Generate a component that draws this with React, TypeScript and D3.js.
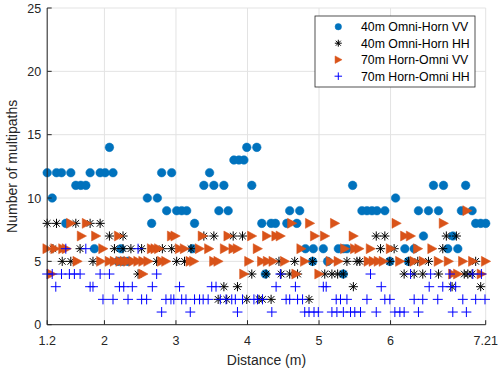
import React from "react";
import * as d3 from "d3";

// ---- data: [distance (m), number of multipaths] ----
const vv40: [number, number][] = [
  [2.07, 14], [3.99, 14], [4.13, 14],
  [3.81, 13], [3.88, 13], [3.95, 13],
  [1.2, 12], [1.33, 12], [1.4, 12], [1.53, 12], [1.8, 12], [1.94, 12], [2.01, 12], [2.12, 12], [2.8, 12], [2.94, 12], [3.47, 12],
  [1.6, 11], [1.67, 11], [1.74, 11], [3.39, 11], [3.53, 11], [3.67, 11], [4.06, 11], [5.47, 11], [6.6, 11], [6.74, 11], [7.05, 11],
  [1.27, 10], [2.6, 10], [2.74, 10], [6.07, 10],
  [2.87, 9], [3.01, 9], [3.08, 9], [3.15, 9], [3.6, 9], [3.73, 9], [4.59, 9], [4.73, 9], [5.6, 9], [5.67, 9], [5.74, 9], [5.81, 9], [5.92, 9], [6.39, 9], [6.53, 9], [6.67, 9], [6.99, 9], [7.14, 9],
  [1.46, 8], [2.66, 8], [3.26, 8], [4.2, 8], [4.33, 8], [4.39, 8], [4.55, 8], [4.69, 8], [7.19, 8], [7.26, 8], [7.33, 8],
  [6.46, 7], [6.87, 7],
  [1.86, 6], [2.23, 6], [3.23, 6], [4.81, 6], [4.92, 6], [5.06, 6], [5.27, 6], [5.34, 6], [5.39, 6], [6.2, 6], [6.33, 6], [6.8, 6], [6.94, 6],
  [2.19, 5], [2.26, 5], [2.33, 5], [4.91, 5], [5.12, 5], [5.99, 5], [6.25, 5],
  [4.25, 4], [5.34, 4],
];

const hh40: [number, number][] = [
  [1.2, 8], [1.33, 8], [1.6, 8], [1.8, 8], [1.94, 8],
  [2.07, 7], [2.26, 7], [3.39, 7], [3.53, 7], [3.8, 7], [3.93, 7], [5.8, 7], [5.92, 7], [6.78, 7], [6.92, 7],
  [1.28, 6], [1.66, 6], [2.14, 6], [2.26, 6], [2.37, 6], [2.52, 6], [2.81, 6], [2.94, 6], [3.21, 6], [5.86, 6], [6.05, 6], [6.73, 6],
  [1.41, 5], [1.53, 5], [1.84, 5], [2.73, 5], [3.01, 5], [3.12, 5], [4.44, 5], [4.66, 5], [4.91, 5], [5.39, 5], [5.53, 5], [5.57, 5], [5.99, 5], [6.25, 5], [6.38, 5], [6.53, 5], [7.19, 5],
  [2.47, 4], [4.06, 4], [4.26, 4], [4.47, 4], [4.59, 4], [4.7, 4], [5.08, 4], [5.18, 4], [5.26, 4], [5.34, 4], [6.19, 4], [6.33, 4], [6.45, 4], [6.67, 4], [7.03, 4], [7.08, 4], [7.14, 4],
  [3.67, 3], [3.86, 3], [5.48, 3], [6.86, 3], [7.26, 3],
  [3.59, 2], [3.71, 2], [3.99, 2], [4.16, 2], [4.21, 2], [4.33, 2], [4.86, 2],
];

const vv70: [number, number][] = [
  [7.07, 9],
  [1.53, 8], [1.75, 8], [4.62, 8], [4.87, 8], [5.22, 8], [6.08, 8], [6.74, 8],
  [1.68, 7], [1.88, 7], [2.2, 7], [2.94, 7], [2.99, 7], [3.37, 7], [3.73, 7], [4.06, 7], [4.27, 7], [4.4, 7], [4.46, 7], [4.94, 7], [5.08, 7], [5.48, 7], [6.2, 7], [6.28, 7],
  [1.2, 6], [1.31, 6], [1.42, 6], [1.47, 6], [1.98, 6], [2.66, 6], [2.71, 6], [2.76, 6], [3.05, 6], [3.12, 6], [3.33, 6], [3.46, 6], [3.68, 6], [3.8, 6], [3.86, 6], [4.14, 6], [4.75, 6], [5.36, 6], [5.5, 6], [5.56, 6], [5.72, 6], [6.0, 6], [6.38, 6], [6.58, 6],
  [1.62, 5], [1.95, 5], [2.07, 5], [2.14, 5], [2.22, 5], [2.28, 5], [2.33, 5], [2.4, 5], [2.47, 5], [2.54, 5], [2.61, 5], [2.8, 5], [2.86, 5], [3.2, 5], [3.25, 5], [3.53, 5], [3.59, 5], [4.02, 5], [4.2, 5], [4.28, 5], [4.36, 5], [4.52, 5], [4.8, 5], [5.16, 5], [5.27, 5], [5.69, 5], [5.76, 5], [5.83, 5], [5.9, 5], [6.13, 5], [6.33, 5], [6.46, 5], [6.67, 5], [6.81, 5], [7.01, 5], [7.15, 5], [7.33, 5],
  [1.26, 4], [2.54, 4], [3.95, 4], [4.68, 4], [5.0, 4], [6.87, 4], [6.94, 4], [7.27, 4],
];

const hh70: [number, number][] = [
  [1.46, 6], [1.74, 6], [2.47, 6],
  [1.2, 4], [1.27, 4], [1.4, 4], [1.51, 4], [1.58, 4], [1.66, 4], [1.94, 4], [2.07, 4], [2.73, 4], [4.46, 4], [5.72, 4], [6.28, 4], [6.56, 4], [6.83, 4], [7.15, 4], [7.27, 4],
  [1.32, 3], [1.8, 3], [1.84, 3], [2.21, 3], [2.27, 3], [2.39, 3], [2.67, 3], [3.05, 3], [3.5, 3], [3.56, 3], [4.4, 3], [4.67, 3], [5.06, 3], [5.1, 3], [5.87, 3], [6.54, 3], [6.73, 3], [6.84, 3], [6.91, 3],
  [1.98, 2], [2.12, 2], [2.33, 2], [2.52, 2], [2.59, 2], [2.86, 2], [2.93, 2], [2.97, 2], [3.08, 2], [3.14, 2], [3.26, 2], [3.33, 2], [3.38, 2], [3.45, 2], [3.62, 2], [3.7, 2], [3.78, 2], [3.83, 2], [3.93, 2], [4.09, 2], [4.14, 2], [4.21, 2], [4.54, 2], [4.59, 2], [4.7, 2], [4.77, 2], [5.24, 2], [5.3, 2], [5.39, 2], [5.67, 2], [5.92, 2], [5.99, 2], [6.33, 2], [6.45, 2], [6.66, 2], [7.01, 2], [7.19, 2], [7.32, 2],
  [2.8, 1], [3.2, 1], [3.86, 1], [4.34, 1], [4.8, 1], [4.86, 1], [4.93, 1], [4.99, 1], [5.18, 1], [5.25, 1], [5.34, 1], [5.44, 1], [5.5, 1], [5.58, 1], [5.8, 1], [6.06, 1], [6.13, 1], [6.19, 1], [6.39, 1], [6.87, 1], [7.06, 1],
];

const xTickValues = [1.2, 2, 3, 4, 5, 6, 7.33];
const xTickLabels = ["1.2", "2", "3", "4", "5", "6", "7.21"];
const yTickValues = [0, 5, 10, 15, 20, 25];
const legendLabels = ["40m Omni-Horn VV", "40m Omni-Horn HH", "70m Horn-Omni VV", "70m Horn-Omni HH"];

const W = 499, H = 378;
const M = { left: 47.2, top: 8, right: 13.3, bottom: 53.3 };
const FONT = "'Liberation Sans', Arial, Helvetica, sans-serif";
const AX = "#262626";
const GRID = "#e3e3e3";
const C_BLUE = "#0072BD";
const C_ORANGE = "#D95319";
const C_PLUS = "#0000FF";

const x = d3.scaleLinear().domain([1.2, 7.33]).range([M.left, W - M.right]);
const y = d3.scaleLinear().domain([0, 25]).range([H - M.bottom, M.top]);

type MkProps = { cx: number; cy: number; k?: number };

function Circle({ cx, cy, k = 1 }: MkProps) {
  return <circle cx={cx} cy={cy} r={4.3 * k} fill={C_BLUE} stroke={C_BLUE} strokeWidth={0.5} />;
}
function Star({ cx, cy, k = 1 }: MkProps) {
  const s = 4.6 * k, q = 3.3 * k;
  const d = `M${cx - s},${cy}H${cx + s}M${cx},${cy - s}V${cy + s}M${cx - q},${cy - q}L${cx + q},${cy + q}M${cx - q},${cy + q}L${cx + q},${cy - q}`;
  return <path d={d} stroke="#000" strokeWidth={1} fill="none" />;
}
function Tri({ cx, cy, k = 1 }: MkProps) {
  const pts = `${cx - 4.3 * k},${cy - 5 * k} ${cx + 5 * k},${cy} ${cx - 4.3 * k},${cy + 5 * k}`;
  return <polygon points={pts} fill={C_ORANGE} stroke={C_ORANGE} strokeWidth={0.5} />;
}
function Plus({ cx, cy, k = 1 }: MkProps) {
  const s = 5 * k;
  const d = `M${cx - s},${cy}H${cx + s}M${cx},${cy - s}V${cy + s}`;
  return <path d={d} stroke={C_PLUS} strokeWidth={1} fill="none" />;
}

const seriesList = [
  { data: vv40, Mk: Circle },
  { data: hh40, Mk: Star },
  { data: vv70, Mk: Tri },
  { data: hh70, Mk: Plus },
];

export default function App() {
  const x0 = M.left, x1 = W - M.right, y0 = H - M.bottom, y1 = M.top;
  const legX = 315, legY = 16, legW = 160, legH = 71;
  const rowH = 16.5;
  return (
    <svg width={W} height={H} style={{ position: "absolute", left: 0, top: 0, background: "#fff" }}>
      <rect x={0} y={0} width={W} height={H} fill="#fff" />
      {xTickValues.map((v, i) => (
        <line key={"gx" + i} x1={x(v)} x2={x(v)} y1={y0} y2={y1} stroke={GRID} strokeWidth={1} />
      ))}
      {yTickValues.map((v, i) => (
        <line key={"gy" + i} x1={x0} x2={x1} y1={y(v)} y2={y(v)} stroke={GRID} strokeWidth={1} />
      ))}
      {seriesList.map((s, si) => (
        <g key={"s" + si}>
          {s.data.map((p, i) => (
            <s.Mk key={i} cx={x(p[0])} cy={y(p[1])} />
          ))}
        </g>
      ))}
      <line x1={x0} x2={x1} y1={y0} y2={y0} stroke={AX} strokeWidth={1} />
      <line x1={x0} x2={x0} y1={y0} y2={y1} stroke={AX} strokeWidth={1} />
      {xTickValues.map((v, i) => (
        <g key={"xt" + i}>
          <line x1={x(v)} x2={x(v)} y1={y0} y2={y0 - 4.5} stroke={AX} strokeWidth={1} />
          <text x={x(v)} y={345} textAnchor="middle" fontFamily={FONT} fontSize={12.5} fill={AX}>
            {xTickLabels[i]}
          </text>
        </g>
      ))}
      {yTickValues.map((v, i) => (
        <g key={"yt" + i}>
          <line x1={x0} x2={x0 + 4.5} y1={y(v)} y2={y(v)} stroke={AX} strokeWidth={1} />
          <text x={x0 - 6} y={y(v) + 4.5} textAnchor="end" fontFamily={FONT} fontSize={12.5} fill={AX}>
            {v}
          </text>
        </g>
      ))}
      <text x={(x0 + x1) / 2} y={365} textAnchor="middle" fontFamily={FONT} fontSize={14} fill={AX}>
        Distance (m)
      </text>
      <text
        transform={`translate(17,${(y0 + y1) / 2}) rotate(-90)`}
        textAnchor="middle"
        fontFamily={FONT}
        fontSize={14}
        fill={AX}
      >
        Number of multipaths
      </text>
      <rect x={legX} y={legY} width={legW} height={legH} fill="#fff" stroke={AX} strokeWidth={0.8} />
      {seriesList.map((s, i) => {
        const cy = legY + 10.7 + i * rowH;
        return (
          <g key={"lg" + i}>
            <s.Mk cx={338.3} cy={cy} k={0.75} />
            <text x={361} y={cy + 4.3} fontFamily={FONT} fontSize={12.3} fill="#000">
              {legendLabels[i]}
            </text>
          </g>
        );
      })}
    </svg>
  );
}
